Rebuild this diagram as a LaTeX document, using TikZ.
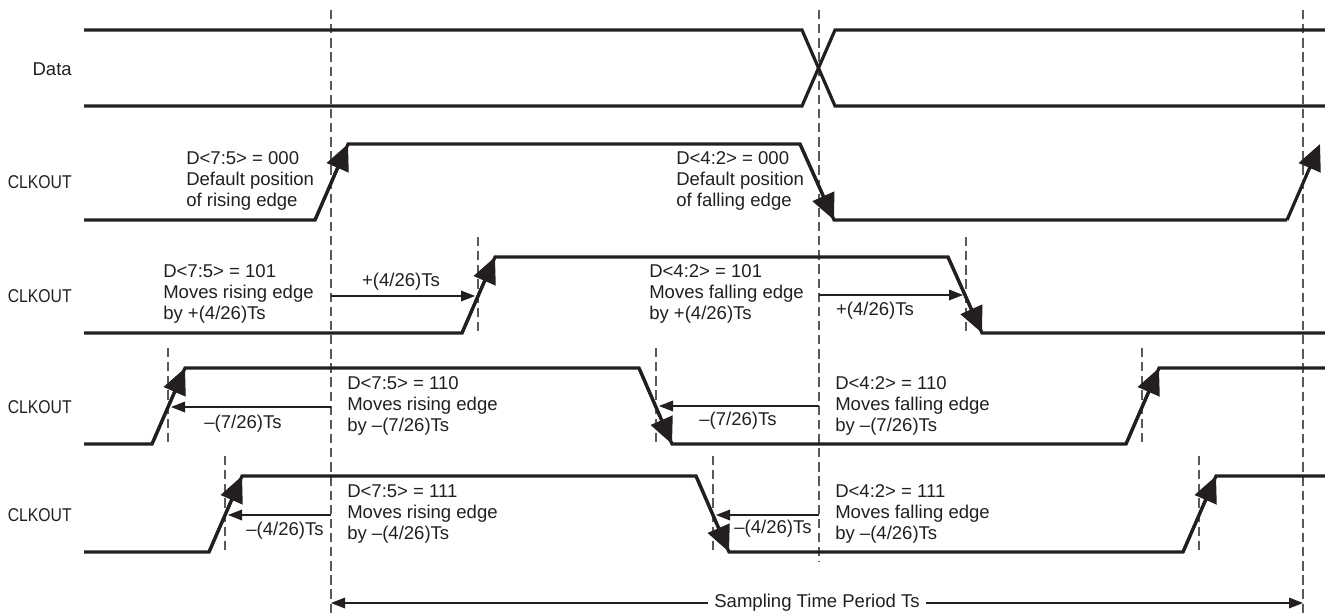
\documentclass[tikz,border=0pt]{standalone}
\usepackage{fontspec}
\setmainfont{Liberation Sans}
\usetikzlibrary{arrows.meta}
\definecolor{tdInk}{HTML}{231F20}
\definecolor{tdGuide}{HTML}{58595B}

\begin{document}
\begin{tikzpicture}[x=0.75pt,y=-0.75pt,
  every node/.style={inner sep=0pt,text=tdInk,font=\fontsize{13.9pt}{15.9pt}\selectfont},
  sig/.style={tdInk,line width=2.4pt},
  clkedge/.style={tdInk,line width=2.4pt,-{Triangle[length=19.5pt,width=17.5pt]}},
  guide/.style={tdGuide,line width=1pt,dash pattern=on 7pt off 3.6pt},
  delayarr/.style={tdInk,line width=0.9pt,-{Triangle[length=10.5pt,width=8pt]}},
  desc/.style={align=left,anchor=west},
  rowlbl/.style={anchor=east}]
\useasboundingbox (0,0) rectangle (1325,614);
\def\ta{331}\def\tb{819}\def\tc{1303}
% guides
\draw[guide](\ta,10)--(\ta,614);\draw[guide](\tb,10)--(\tb,562);\draw[guide](\tc,10)--(\tc,614);
\draw[guide](478,237)--(478,331);\draw[guide](966,237)--(966,331);
\draw[guide](168,348)--(168,443);\draw[guide](656,348)--(656,443);\draw[guide](1142,348)--(1142,443);
\draw[guide](225,456)--(225,551);\draw[guide](713,456)--(713,551);\draw[guide](1199,456)--(1199,551);
% data
\draw[sig](84,30)--(802,30)--(835,106)--(1325,106);
\draw[sig](84,106)--(802,106)--(835,30)--(1325,30);
\node[rowlbl] (data) at (72,69) {Data};
% default edges
\draw[sig](84,220)--(315,220)--(348,144)--(800,144)--(834,220)--(1287,220);
\draw[clkedge](315,220)--(348,144);\draw[clkedge](800,144)--(834,220);\draw[clkedge](1287,220)--(1320,144);
\node[rowlbl] (clk0) at (72,182) {\scalebox{0.85}[1]{CLKOUT}};
\node[desc] (r0) at (186,181) {D<7:5> = 000\\Default position\\of rising edge};
\node[desc] (f0) at (676,181) {D<4:2> = 000\\Default position\\of falling edge};
% 101
\draw[sig](84,333)--(462,333)--(495,257)--(948,257)--(982,333)--(1325,333);
\draw[clkedge](462,333)--(495,257);\draw[clkedge](948,257)--(982,333);
\draw[delayarr](\ta,296)--(475,296);\draw[delayarr](\tb,295)--(963,295);
\node (r1d) at (401,282) {+(4/26)Ts};\node (f1d) at (875,311) {+(4/26)Ts};
\node[rowlbl] (clk1) at (72,296) {\scalebox{0.85}[1]{CLKOUT}};
\node[desc] (r1) at (163,294) {D<7:5> = 101\\Moves rising edge\\by +(4/26)Ts};
\node[desc] (f1) at (649,294) {D<4:2> = 101\\Moves falling edge\\by +(4/26)Ts};
% 110
\draw[sig](84,444)--(152,444)--(185,368)--(639,368)--(672,444)--(1126,444)--(1159,368)--(1325,368);
\draw[clkedge](152,444)--(185,368);\draw[clkedge](639,368)--(672,444);\draw[clkedge](1126,444)--(1159,368);
\draw[delayarr](\ta,407)--(171,407);\draw[delayarr](\tb,406)--(659,406);
\node (r2d) at (243,424) {\textendash(7/26)Ts};\node (f2d) at (738,421) {\textendash(7/26)Ts};
\node[rowlbl] (clk2) at (72,407) {\scalebox{0.85}[1]{CLKOUT}};
\node[desc] (r2) at (347,406) {D<7:5> = 110\\Moves rising edge\\by \textendash(7/26)Ts};
\node[desc] (f2) at (835,406) {D<4:2> = 110\\Moves falling edge\\by \textendash(7/26)Ts};
% 111
\draw[sig](84,552)--(209,552)--(242,476)--(696,476)--(729,552)--(1183,552)--(1216,476)--(1325,476);
\draw[clkedge](209,552)--(242,476);\draw[clkedge](696,476)--(729,552);\draw[clkedge](1183,552)--(1216,476);
\draw[delayarr](\ta,515)--(228,515);\draw[delayarr](\tb,515)--(716,515);
\node (r3d) at (285,531) {\textendash(4/26)Ts};\node (f3d) at (773,529) {\textendash(4/26)Ts};
\node[rowlbl] (clk3) at (72,515) {\scalebox{0.85}[1]{CLKOUT}};
\node[desc] (r3) at (347,514) {D<7:5> = 111\\Moves rising edge\\by \textendash(4/26)Ts};
\node[desc] (f3) at (835,514) {D<4:2> = 111\\Moves falling edge\\by \textendash(4/26)Ts};
% sampling period
\draw[delayarr,{Triangle[length=10.5pt,width=8pt]}-{Triangle[length=10.5pt,width=8pt]}](\ta,603)--(\tc,603);
\node[fill=white,inner xsep=5pt] (ts) at (817,603) {Sampling Time Period Ts};
\end{tikzpicture}
\end{document}
